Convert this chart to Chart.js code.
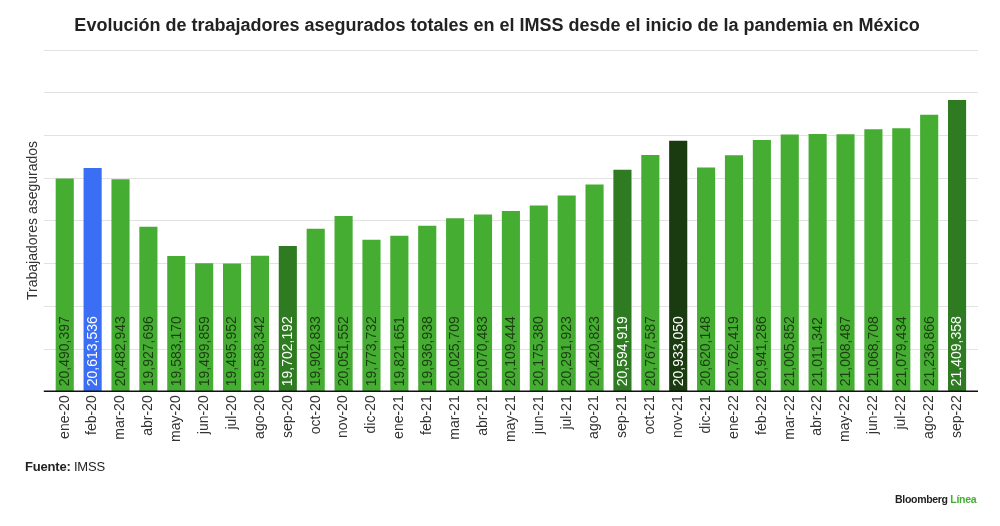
<!DOCTYPE html>
<html>
<head>
	<title>Trabajadores asegurados IMSS</title>
	<script src="https://cdn.jsdelivr.net/npm/chart.js"></script>
	<style>
		body { margin: 0; background: #fff; font-family: "Liberation Sans", Arial, sans-serif; }
		#wrap { position: relative; width: 1000px; height: 526px; }
		#fuente { position: absolute; left: 25px; top: 459px; font-size: 13px; color: #222; letter-spacing: -0.2px; }
		#marca { position: absolute; left: 895px; top: 493px; font-size: 10.5px; font-weight: bold; color: #222; letter-spacing: -0.3px; }
		#marca span { color: #45ad32; }
	</style>
</head>
<body>
	<div id="wrap">
		<canvas id="myChart" width="1000" height="526"></canvas>
		<div id="fuente"><b>Fuente:</b> IMSS</div>
		<div id="marca">Bloomberg <span>Línea</span></div>
	</div>
	<script>
		var months = ['ene-20','feb-20','mar-20','abr-20','may-20','jun-20','jul-20','ago-20','sep-20','oct-20','nov-20','dic-20',
			'ene-21','feb-21','mar-21','abr-21','may-21','jun-21','jul-21','ago-21','sep-21','oct-21','nov-21','dic-21',
			'ene-22','feb-22','mar-22','abr-22','may-22','jun-22','jul-22','ago-22','sep-22'];
		var workers = [20490397, 20613536, 20482943, 19927696, 19583170, 19499859, 19495952, 19588342, 19702192, 19902833, 20051552, 19773732,
			19821651, 19936938, 20025709, 20070483, 20109444, 20175380, 20291923, 20420823, 20594919, 20767587, 20933050, 20620148,
			20762419, 20941286, 21005852, 21011342, 21008487, 21068708, 21079434, 21236866, 21409358];
		var yMin = 18000000, yMax = 22000000, yStep = 500000;

		var GREEN = '#45ad32', DARK = '#2e7b22', DARKEST = '#1a3a0f', BLUE = '#3a6ff5';
		var barColors = months.map(function (m) {
			if (m === 'feb-20') return BLUE;
			if (m === 'nov-21') return DARKEST;
			if (m === 'sep-20' || m === 'sep-21' || m === 'sep-22') return DARK;
			return GREEN;
		});

		// lineas de la rejilla y etiquetas dentro de las barras
		var extras = {
			id: 'extras',
			beforeDatasetsDraw: function (chart) {
				var c = chart.ctx, y = chart.scales.y, a = chart.chartArea;
				c.save();
				c.strokeStyle = '#e2e2e2';
				c.lineWidth = 1;
				for (var v = yMin + yStep; v <= yMax; v += yStep) {
					var py = Math.round(y.getPixelForValue(v)) + 0.5;
					c.beginPath();
					c.moveTo(a.left - 7, py);
					c.lineTo(a.right + 7, py);
					c.stroke();
				}
				c.restore();
			},
			afterDatasetsDraw: function (chart) {
				var c = chart.ctx, y = chart.scales.y, a = chart.chartArea;
				var base = y.getPixelForValue(yMin);
				c.save();
				c.font = '14px "Liberation Sans", Arial, sans-serif';
				c.textAlign = 'left';
				c.textBaseline = 'middle';
				chart.getDatasetMeta(0).data.forEach(function (bar, i) {
					c.save();
					c.translate(bar.x + 0.5, base - 5);
					c.rotate(-Math.PI / 2);
					c.fillStyle = barColors[i] === GREEN ? '#1c3d12' : '#ffffff';
					c.fillText(workers[i].toLocaleString('en-US'), 0, 0);
					c.restore();
				});
				c.strokeStyle = '#111';
				c.lineWidth = 1.5;
				c.beginPath();
				c.moveTo(a.left - 7, base);
				c.lineTo(a.right + 7, base);
				c.stroke();
				c.restore();
			}
		};

		const ctx = document.getElementById('myChart');
		new Chart(ctx, {
			type: 'bar',
			plugins: [extras],
			data: {
				labels: months,
				datasets: [{
					label: 'Trabajadores asegurados',
					data: workers,
					backgroundColor: barColors,
					barPercentage: 0.65,
					categoryPercentage: 1
				}]
			},
			options: {
				responsive: false,
				animation: false,
				layout: { padding: { left: 23, right: 29, top: 0, bottom: 80 } },
				plugins: {
					legend: { display: false },
					tooltip: { enabled: false },
					title: {
						display: true,
						text: 'Evolución de trabajadores asegurados totales en el IMSS desde el inicio de la pandemia en México',
						color: '#222',
						font: { family: '"Liberation Sans", Arial, sans-serif', size: 18, weight: 'bold' },
						padding: { top: 15, bottom: 13 }
					}
				},
				scales: {
					x: {
						grid: { display: false, drawTicks: false },
						border: { display: false },
						ticks: {
							color: '#333',
							maxRotation: 90,
							minRotation: 90,
							padding: 4,
							autoSkip: false,
							font: { family: '"Liberation Sans", Arial, sans-serif', size: 14 }
						}
					},
					y: {
						min: yMin,
						max: yMax,
						grid: { display: false },
						border: { display: false },
						ticks: { display: false, stepSize: yStep },
						title: {
							display: true,
							text: 'Trabajadores asegurados',
							color: '#333',
							font: { family: '"Liberation Sans", Arial, sans-serif', size: 14 },
							padding: { top: 2, bottom: 1 }
						}
					}
				}
			}
		});
	</script>
</body>
</html>
